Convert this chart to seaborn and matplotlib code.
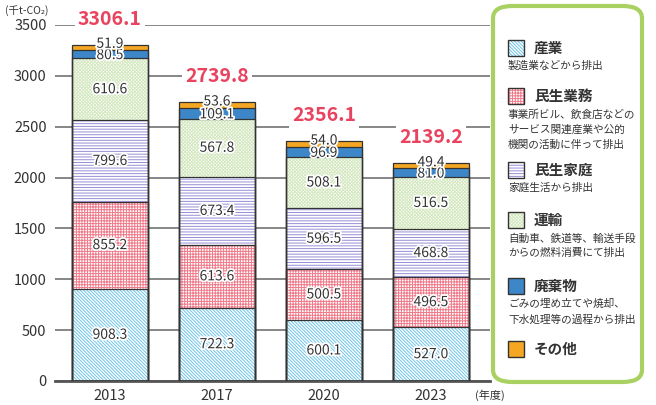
import numpy as np
import pandas as pd
import seaborn as sns
import matplotlib
import matplotlib.pyplot as plt
from matplotlib.patches import FancyBboxPatch, Rectangle
import matplotlib.patheffects as pe

matplotlib.use('Agg')

# data (千t-CO2)
years = ['2013', '2017', '2020', '2023']
sangyo = [908.3, 722.3, 600.1, 527.0]
minsei_gyomu = [855.2, 613.6, 500.5, 496.5]
minsei_katei = [799.6, 673.4, 596.5, 468.8]
unyu = [610.6, 567.8, 508.1, 516.5]
haikibutsu = [80.5, 109.1, 96.9, 81.0]
sonota = [51.9, 53.6, 54.0, 49.4]
totals = [3306.1, 2739.8, 2356.1, 2139.2]

names = ['産業', '民生業務', '民生家庭', '運輸', '廃棄物', 'その他']
descs = ['製造業などから排出',
         '事業所ビル、飲食店などの\nサービス関連産業や公的\n機関の活動に伴って排出',
         '家庭生活から排出',
         '自動車、鉄道等、輸送手段\nからの燃料消費にて排出',
         'ごみの埋め立てや焼却、\n下水処理等の過程から排出',
         '']

# style per sector: (facecolor, hatch, hatch colour)
styles = [('white', '\\' * 10, '#6cc4e8'),
          ('white', '+' * 6, '#f07a8a'),
          ('white', '-' * 6, '#968ed6'),
          ('white', 'x' * 10, '#d3e8bf'),
          ('#3d87c8', None, '#3d87c8'),
          ('#f5a623', None, '#f5a623')]

sns.set_style('white')
plt.rcParams['font.family'] = ['Noto Sans CJK JP', 'DejaVu Sans']
plt.rcParams['hatch.linewidth'] = 0.7

layers = np.array([sangyo, minsei_gyomu, minsei_katei, unyu, haikibutsu, sonota])
cum = layers.cumsum(axis=0)

fig = plt.figure(figsize=(6.56, 4.05), dpi=100)
ax = fig.add_axes([0.0838, 0.0593, 0.663, 0.879])

bw = 0.71
# draw cumulative bars from the top layer down so each lower layer covers the rest
for i in range(len(layers) - 1, -1, -1):
    face, hatch, hcol = styles[i]
    sns.barplot(x=years, y=cum[i], color=face, saturation=1, width=bw,
                hatch=hatch, edgecolor=hcol, linewidth=0, errorbar=None,
                ax=ax, zorder=2)
# dark outlines of every segment
for i in range(len(layers)):
    sns.barplot(x=years, y=cum[i], fill=False, color='#333333', saturation=1,
                width=bw, linewidth=0.9, errorbar=None, ax=ax, zorder=3)

stroke = [pe.withStroke(linewidth=2.5, foreground='white')]
label_shift = [0, 0, 0, 0, -10, 35]
for i in range(len(layers)):
    for j in range(len(years)):
        mid = cum[i][j] - layers[i][j] / 2 + label_shift[i]
        ax.text(j, mid, f'{layers[i][j]:.1f}', ha='center', va='center',
                fontsize=10, color='#333333', zorder=5, path_effects=stroke)

for j, t in enumerate(totals):
    ax.text(j, t + 250, f'{t:.1f}', ha='center', va='center', fontsize=14,
            fontweight='bold', color='#e9435f', zorder=6, clip_on=False,
            bbox=dict(boxstyle='square,pad=0.15', fc='white', ec='none'))

ax.set_ylim(0, 3500)
ax.set_xlim(-0.514, 3.551)
ax.set_yticks(range(0, 3501, 500))
ax.yaxis.grid(True, color='#666666', linewidth=1.1)
ax.set_axisbelow(True)
for s in ['left', 'right', 'top']:
    ax.spines[s].set_visible(False)
ax.spines['bottom'].set_color('#555555')
ax.spines['bottom'].set_linewidth(2)
ax.tick_params(axis='y', length=0, pad=6, labelsize=10.5, labelcolor='#333333')
ax.tick_params(axis='x', length=0, pad=6, labelsize=10.5, labelcolor='#333333')
ax.set_xlabel('')
ax.set_ylabel('')

fig.text(5 / 656, 1 - 11 / 405, '(千t-CO₂)', fontsize=7.5, color='#333333',
         ha='left', va='center')
fig.text(490 / 656, 1 - 395 / 405, '(年度)', fontsize=8, color='#333333',
         ha='center', va='center')

# legend panel
W, H = 656, 405
box = FancyBboxPatch((493 / W, 1 - 382 / H), 149 / W, 376 / H,
                     boxstyle='round,pad=0,rounding_size=0.03',
                     transform=fig.transFigure, fc='white', ec='#a9d162',
                     lw=3, zorder=10)
fig.patches.append(box)

title_y = [48, 96, 170, 220, 286, 349]
for k, name in enumerate(names):
    face, hatch, hcol = styles[k]
    y = title_y[k]
    fig.patches.append(Rectangle((508 / W, 1 - (y + 8) / H), 16 / W, 16 / H,
                                 transform=fig.transFigure, fc=face,
                                 hatch=hatch, ec=hcol, lw=0, zorder=11))
    fig.patches.append(Rectangle((508 / W, 1 - (y + 8) / H), 16 / W, 16 / H,
                                 transform=fig.transFigure, fill=False,
                                 ec='#333333', lw=1.0, zorder=12))
    fig.text(534 / W, 1 - y / H, name, fontsize=10.5, fontweight='bold',
             color='#333333', ha='left', va='center', zorder=13)
    if descs[k]:
        fig.text(508 / W, 1 - (y + 13) / H, descs[k], fontsize=7.7,
                 color='#333333', ha='left', va='top', linespacing=1.6,
                 zorder=13)

plt.savefig('out.png', dpi=100)
plt.close()
